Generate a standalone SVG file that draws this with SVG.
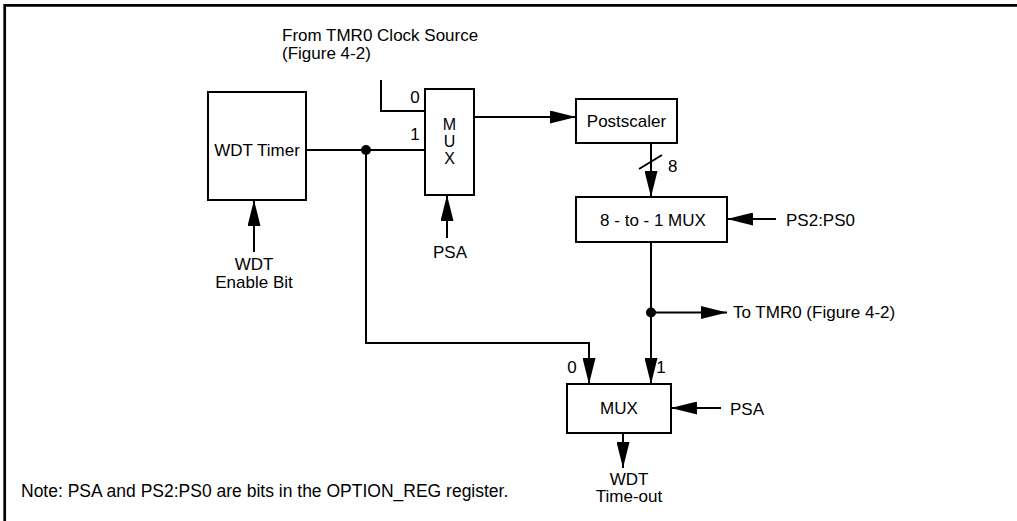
<svg xmlns="http://www.w3.org/2000/svg" width="1017" height="521" viewBox="0 0 1017 521">
  <style>
    text { font-family: "Liberation Sans", Arial, sans-serif; font-size: 17px; fill: #000; }
    .box { fill: #fff; stroke: #000; stroke-width: 2; }
    .wire { fill: none; stroke: #000; stroke-width: 2; }
    .mid { text-anchor: middle; }
    .vert { font-size: 16px; }
  </style>
  <defs>
    <marker id="arrow" markerUnits="userSpaceOnUse" markerWidth="26" markerHeight="13" refX="26" refY="6.5" orient="auto">
      <path d="M0,0 L26,6.5 L0,13 Z" fill="#000"/>
    </marker>
  </defs>
  <rect width="1017" height="521" fill="#fff"/>
  <g id="frame">
    <path d="M4.7,521 V5.3 H1017" fill="none" stroke="#000" stroke-width="2.7"/>
  </g>

  <g id="connectors">
    <!-- TMR0 clock source to MUX 0 -->
    <path class="wire" d="M381,80 V111 H425"/>
    <!-- WDT Timer to MUX 1 -->
    <path class="wire" d="M306,150 H425"/>
    <circle cx="366" cy="150" r="5" fill="#000"/>
    <!-- branch down to bottom MUX 0 -->
    <path class="wire" d="M366,150 V343 H589 V384" marker-end="url(#arrow)"/>
    <!-- WDT enable -->
    <path class="wire" d="M254,252 V200" marker-end="url(#arrow)"/>
    <!-- PSA to top MUX -->
    <path class="wire" d="M447,238 V195" marker-end="url(#arrow)"/>
    <!-- MUX to Postscaler -->
    <path class="wire" d="M474,117 H576" marker-end="url(#arrow)"/>
    <!-- Postscaler to 8-to-1 MUX -->
    <path class="wire" d="M651,143 V197" marker-end="url(#arrow)"/>
    <path class="wire" d="M639,169 L662,155"/>
    <!-- PS2:PS0 -->
    <path class="wire" d="M776,219 H727" marker-end="url(#arrow)"/>
    <!-- 8-to-1 MUX to bottom MUX 1 -->
    <path class="wire" d="M651,242 V384" marker-end="url(#arrow)"/>
    <circle cx="651" cy="312.5" r="5" fill="#000"/>
    <!-- To TMR0 -->
    <path class="wire" d="M651,312.5 H727" marker-end="url(#arrow)"/>
    <!-- PSA to bottom MUX -->
    <path class="wire" d="M721,408 H671" marker-end="url(#arrow)"/>
    <!-- bottom MUX output -->
    <path class="wire" d="M623,433 V468" marker-end="url(#arrow)"/>
  </g>

  <g id="wdt-timer">
    <rect class="box" x="208" y="92" width="98" height="108"/>
    <text class="mid" x="257" y="156">WDT Timer</text>
  </g>
  <g id="wdt-enable-label">
    <text class="mid" x="254" y="270">WDT</text>
    <text class="mid" x="254" y="288">Enable Bit</text>
  </g>
  <g id="tmr0-source-label">
    <text x="282" y="41">From TMR0 Clock Source</text>
    <text x="282" y="59">(Figure 4-2)</text>
  </g>
  <g id="mux-top">
    <rect class="box" x="425" y="89" width="49" height="106"/>
    <text class="mid vert" x="449.5" y="130">M</text>
    <text class="mid vert" x="449.5" y="147">U</text>
    <text class="mid vert" x="449.5" y="164">X</text>
    <text class="mid" x="415" y="103">0</text>
    <text class="mid" x="415" y="140">1</text>
  </g>
  <g id="psa-top-label">
    <text class="mid" x="450" y="258">PSA</text>
  </g>
  <g id="postscaler">
    <rect class="box" x="576" y="99" width="101" height="44"/>
    <text class="mid" x="626.5" y="127">Postscaler</text>
    <text x="668" y="172">8</text>
  </g>
  <g id="mux-8to1">
    <rect class="box" x="576" y="197" width="151" height="45"/>
    <text class="mid" x="653" y="226">8 - to - 1 MUX</text>
  </g>
  <g id="ps-label">
    <text x="786" y="226">PS2:PS0</text>
  </g>
  <g id="to-tmr0-label">
    <text x="733" y="318">To TMR0 (Figure 4-2)</text>
  </g>
  <g id="mux-bottom">
    <rect class="box" x="567" y="384" width="104" height="49"/>
    <text class="mid" x="619" y="414">MUX</text>
    <text class="mid" x="572" y="373">0</text>
    <text class="mid" x="661" y="373">1</text>
  </g>
  <g id="psa-bottom-label">
    <text x="730" y="415">PSA</text>
  </g>
  <g id="wdt-timeout-label">
    <text class="mid" x="629" y="485">WDT</text>
    <text class="mid" x="629" y="502">Time-out</text>
  </g>
  <g id="note">
    <text x="21" y="497" style="font-size:17.5px">Note: PSA and PS2:PS0 are bits in the OPTION_REG register.</text>
  </g>
</svg>
